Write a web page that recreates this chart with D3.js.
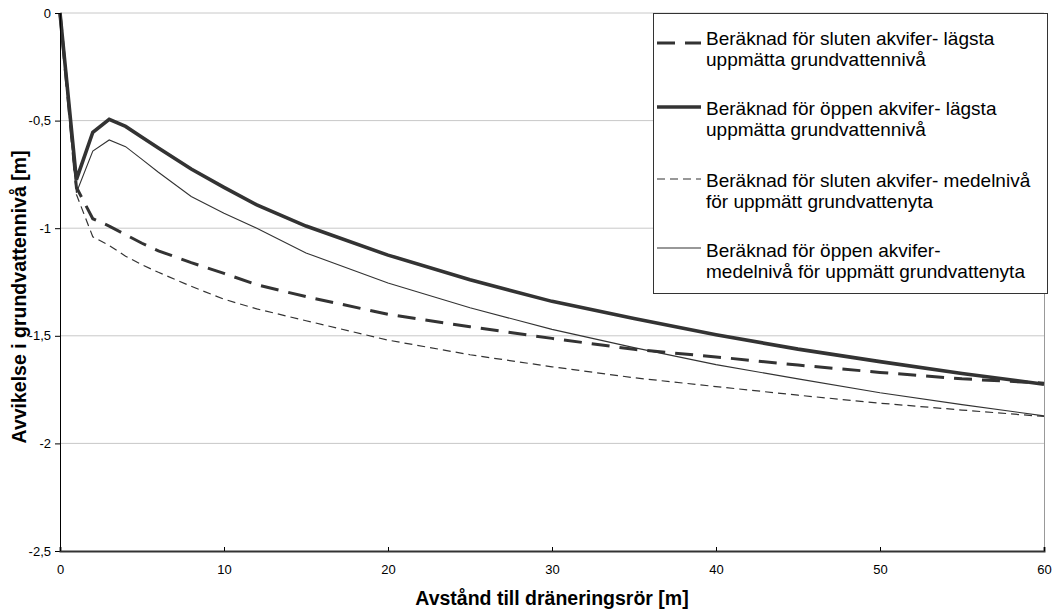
<!DOCTYPE html>
<html><head><meta charset="utf-8">
<script src="https://cdn.jsdelivr.net/npm/d3@7"></script>
<style>body{margin:0;background:#fff;} text{font-family:"Liberation Sans",Arial,sans-serif;}</style>
</head><body><svg id="c" width="1055" height="611"></svg>
<script>
const xValues = [0,1,2,3,4,5,6,8,10,12,15,20,25,30,35,40,45,50,55,60];
const slutenLagsta = [0,-0.81,-0.956,-0.99,-1.03,-1.07,-1.105,-1.16,-1.21,-1.263,-1.318,-1.40,-1.458,-1.512,-1.563,-1.598,-1.636,-1.67,-1.70,-1.72];
const oppenLagsta = [0,-0.774,-0.554,-0.494,-0.527,-0.577,-0.627,-0.725,-0.81,-0.892,-0.99,-1.125,-1.24,-1.34,-1.42,-1.495,-1.562,-1.62,-1.675,-1.725];
const slutenMedel = [0,-0.843,-1.04,-1.08,-1.13,-1.17,-1.205,-1.27,-1.33,-1.375,-1.43,-1.52,-1.588,-1.644,-1.695,-1.736,-1.776,-1.813,-1.845,-1.875];
const oppenMedel = [0,-0.835,-0.642,-0.59,-0.621,-0.68,-0.74,-0.853,-0.93,-1.0,-1.115,-1.255,-1.37,-1.47,-1.555,-1.634,-1.70,-1.765,-1.82,-1.872];
const seriesNames = [
  ["Beräknad för sluten akvifer- lägsta","uppmätta grundvattennivå"],
  ["Beräknad för öppen akvifer- lägsta","uppmätta grundvattennivå"],
  ["Beräknad för sluten akvifer- medelnivå","för uppmätt grundvattenyta"],
  ["Beräknad för öppen akvifer-","medelnivå för uppmätt grundvattenyta"]
];
const xTicks = [0,10,20,30,40,50,60];
const yTicks = [0,-0.5,-1,-1.5,-2,-2.5];
const xTitle = "Avstånd till dräneringsrör [m]";
const yTitle = "Avvikelse i grundvattennivå [m]";

const styles = [
  {w:3, dash:"18,10"},
  {w:3.6, dash:null},
  {w:1.2, dash:"8,5"},
  {w:1.1, dash:null}
];
const allSeries = [slutenLagsta, oppenLagsta, slutenMedel, oppenMedel];

const svg = d3.select("#c");
const L=60, R=1044, T=13, B=551;
const x = d3.scaleLinear().domain([0,60]).range([L,R]);
const y = d3.scaleLinear().domain([-2.5,0]).range([B,T]);
const fmt = d => String(d).replace(".",",");

// gridlines
svg.append("g").selectAll("line").data(yTicks.filter(d=>d!==-2.5)).join("line")
  .attr("x1",L).attr("x2",R).attr("y1",d=>y(d)).attr("y2",d=>y(d))
  .attr("stroke","#c8c8c8").attr("stroke-width",1);
// right border
svg.append("line").attr("x1",R+0.5).attr("x2",R+0.5).attr("y1",T).attr("y2",B).attr("stroke","#999");

// lines
const line = d3.line().x((d,i)=>x(xValues[i])).y(d=>y(d));
allSeries.forEach((s,k)=>{
  svg.append("path").datum(s).attr("d",line).attr("fill","none")
    .attr("stroke","#333").attr("stroke-width",styles[k].w)
    .attr("stroke-dasharray",styles[k].dash).attr("stroke-linejoin","miter");
});

// axes
const ya = svg.append("g").attr("transform",`translate(${L},0)`)
  .call(d3.axisLeft(y).tickValues(yTicks).tickFormat(fmt).tickSize(5));
ya.select(".domain").attr("stroke","#000");
const xa = svg.append("g").attr("transform",`translate(0,${B})`)
  .call(d3.axisBottom(x).tickValues(xTicks).tickFormat(fmt).tickSize(-4));
xa.select(".domain").attr("stroke","#333").attr("stroke-width",2);
svg.selectAll(".tick text").attr("font-size",13).attr("fill","#000")
  .attr("font-family","Liberation Sans, Arial, sans-serif");
ya.selectAll(".tick text").attr("x",-9);
xa.selectAll(".tick text").attr("y",14);
svg.selectAll(".tick line").attr("stroke","#000");

// titles
svg.append("text").attr("x",(L+R)/2).attr("y",605).attr("text-anchor","middle")
  .attr("font-size",19.5).attr("font-weight","bold").text(xTitle);
svg.append("text").attr("transform",`translate(26,297) rotate(-90)`).attr("text-anchor","middle")
  .attr("font-size",19.5).attr("font-weight","bold").text(yTitle);

// legend
const lg = svg.append("g");
lg.append("rect").attr("x",653.5).attr("y",13.5).attr("width",394).attr("height",280)
  .attr("fill","#fff").attr("stroke","#333").attr("stroke-width",1);
const ly = [43,107,179,248];
const lb = [45,115,187,257];
seriesNames.forEach((nm,k)=>{
  lg.append("line").attr("x1",657).attr("x2",701).attr("y1",ly[k]).attr("y2",ly[k])
    .attr("stroke","#333").attr("stroke-width",styles[k].w).attr("stroke-dasharray",styles[k].dash);
  nm.forEach((t,j)=>{
    lg.append("text").attr("x",706).attr("y",lb[k]+j*20.5).attr("font-size",19).attr("fill","#000").text(t);
  });
});
</script></body></html>
